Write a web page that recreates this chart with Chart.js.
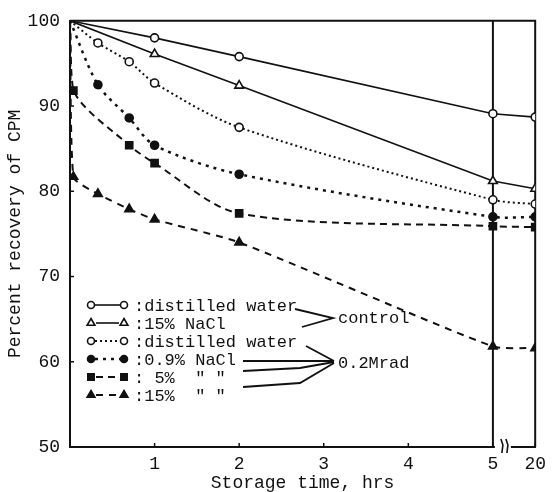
<!DOCTYPE html>
<html>
<head>
<meta charset="utf-8">
<script src="https://cdn.jsdelivr.net/npm/chart.js@4/dist/chart.umd.min.js"></script>
<style>
  html, body { margin: 0; padding: 0; background: #fff; }
  #wrap { width: 552px; height: 492px; }
</style>
</head>
<body>
<div id="wrap"><canvas id="recovery" width="552" height="492"></canvas></div>
<script>
// storage times (hrs) - 20 h sits after the axis break
const hrsControl = [0, 1, 2, 5, 20];
const ctrlWater = [100, 98.0, 95.8, 89.1, 88.7];
const ctrlNaCl15 = [100, 96.1, 92.4, 81.2, 80.3];

const hrsIrrWater = [0, 0.33, 0.7, 1, 2, 5, 20];
const irrWater = [100, 97.4, 95.2, 92.7, 87.5, 79.0, 78.5];
const hrsIrrNaCl09 = [0, 0.33, 0.7, 1, 2, 5, 20];
const irrNaCl09 = [100, 92.5, 88.6, 85.4, 82.0, 77.0, 77.0];
const hrsIrrNaCl5 = [0, 0.04, 0.7, 1, 2, 5, 20];
const irrNaCl5 = [100, 91.8, 85.4, 83.3, 77.4, 75.9, 75.8];
const hrsIrrNaCl15 = [0, 0.04, 0.33, 0.7, 1, 2, 5, 20];
const irrNaCl15 = [100, 81.7, 79.7, 77.9, 76.7, 74.0, 61.8, 61.6];

const xTickHrs = [1, 2, 3, 4, 5, 20];
const yTicks = [50, 60, 70, 80, 90, 100];
const legendLabels = [":distilled water", ":15% NaCl", ":distilled water",
  ":0.9% NaCl", ": 5%  \" \"", ":15%  \" \""];
const groupLabels = ["control", "0.2Mrad"];

const BREAK_AT = 5;
const AFTER_BREAK = 5.5;
function axisPos(h) { return h > BREAK_AT ? AFTER_BREAK : h; }
function pts(hrs, vals) { return hrs.map((h, i) => ({ x: axisPos(h), y: vals[i] })); }

const FONT = "'Liberation Mono', 'DejaVu Sans Mono', monospace";
const INK = "#111";

const styles = [
  { pointStyle: "circle", fill: false, dash: [], width: 1.6, r: 4, tension: 0 },
  { pointStyle: "triangle", fill: false, dash: [], width: 1.6, r: 5, tension: 0 },
  { pointStyle: "circle", fill: false, dash: [2, 3], width: 2, r: 4, tension: 0.3 },
  { pointStyle: "circle", fill: true, dash: [3, 5], width: 2.5, r: 4, tension: 0.3 },
  { pointStyle: "rect", fill: true, dash: [7, 5], width: 2, r: 5, tension: 0.3 },
  { pointStyle: "triangle", fill: true, dash: [7, 6], width: 2, r: 5, tension: 0.2 }
];
const seriesData = [
  pts(hrsControl, ctrlWater), pts(hrsControl, ctrlNaCl15), pts(hrsIrrWater, irrWater),
  pts(hrsIrrNaCl09, irrNaCl09), pts(hrsIrrNaCl5, irrNaCl5), pts(hrsIrrNaCl15, irrNaCl15)
];

const datasets = seriesData.map((d, i) => {
  const s = styles[i];
  return {
    label: legendLabels[i],
    data: d,
    borderColor: INK,
    borderWidth: s.width,
    borderDash: s.dash,
    tension: s.tension,
    pointStyle: s.pointStyle,
    pointRadius: ctx => ctx.dataIndex === 0 ? 0 : s.r,
    pointBackgroundColor: s.fill ? INK : "#fff",
    pointBorderColor: INK,
    pointBorderWidth: 1.6
  };
});

function marker(ctx, s, x, y) {
  ctx.save();
  ctx.setLineDash([]);
  ctx.fillStyle = s.fill ? INK : "#fff";
  ctx.strokeStyle = INK;
  ctx.lineWidth = 1.6;
  Chart.helpers.drawPoint(ctx, { pointStyle: s.pointStyle, radius: s.r - 0.5, rotation: 0, borderWidth: 1.6 }, x, y);
  ctx.restore();
}

function polyline(ctx, p) {
  ctx.beginPath();
  ctx.moveTo(p[0][0], p[0][1]);
  for (let i = 1; i < p.length; i++) ctx.lineTo(p[i][0], p[i][1]);
  ctx.stroke();
}

// frame, the line at 5 h, the axis break and the hand drawn legend
const framePlugin = {
  id: "frame",
  beforeDatasetsDraw(chart) {
    const { ctx, chartArea: a, scales } = chart;
    const x5 = scales.x.getPixelForValue(BREAK_AT);
    ctx.save();
    ctx.strokeStyle = INK;
    ctx.lineWidth = 2;
    polyline(ctx, [[a.left, a.top], [a.right, a.top], [a.right, a.bottom]]);
    polyline(ctx, [[x5, a.top], [x5, a.bottom]]);
    // small inward ticks
    ctx.lineWidth = 1.5;
    yTicks.forEach(v => {
      const y = scales.y.getPixelForValue(v);
      polyline(ctx, [[a.left, y], [a.left + 4, y]]);
    });
    xTickHrs.forEach(h => {
      const x = scales.x.getPixelForValue(axisPos(h));
      polyline(ctx, [[x, a.bottom], [x, a.bottom - 4]]);
    });
    ctx.restore();
  },
  afterDraw(chart) {
    const { ctx, chartArea: a, scales } = chart;
    const x5 = scales.x.getPixelForValue(BREAK_AT);
    ctx.save();
    // axis break
    ctx.fillStyle = "#fff";
    ctx.fillRect(x5 + 2, a.bottom - 3, 16, 6);
    ctx.strokeStyle = INK;
    ctx.lineWidth = 1.6;
    polyline(ctx, [[x5 + 8, a.bottom - 8], [x5 + 10, a.bottom - 2], [x5 + 9, a.bottom + 6]]);
    polyline(ctx, [[x5 + 13, a.bottom - 8], [x5 + 15, a.bottom - 2], [x5 + 14, a.bottom + 6]]);

    // legend
    const rows = [305, 323, 341, 359, 377, 395];
    ctx.font = "17px " + FONT;
    ctx.textBaseline = "middle";
    ctx.textAlign = "left";
    ctx.fillStyle = INK;
    rows.forEach((y, i) => {
      const s = styles[i];
      ctx.strokeStyle = INK;
      ctx.lineWidth = s.width;
      ctx.setLineDash(s.dash);
      polyline(ctx, [[91 + s.r, y], [124 - s.r, y]]);
      ctx.setLineDash([]);
      marker(ctx, s, 91, y);
      marker(ctx, s, 124, y);
      ctx.fillText(legendLabels[i], 134, y + 1);
    });
    ctx.fillText(groupLabels[0], 338, 318);
    ctx.fillText(groupLabels[1], 338, 363);

    // braces
    ctx.lineWidth = 1.8;
    ctx.setLineDash([]);
    polyline(ctx, [[295, 309], [333, 318], [302, 327]]);
    polyline(ctx, [[306, 346], [334, 361]]);
    polyline(ctx, [[243, 361], [334, 361]]);
    polyline(ctx, [[243, 371], [300, 368], [334, 362]]);
    polyline(ctx, [[243, 387], [300, 383], [334, 363]]);
    ctx.restore();
  }
};

new Chart(document.getElementById("recovery"), {
  type: "line",
  data: { datasets: datasets },
  plugins: [framePlugin],
  options: {
    responsive: false,
    animation: false,
    layout: { padding: { top: 20, right: 16, left: 0, bottom: 0 } },
    plugins: { legend: { display: false }, tooltip: { enabled: false } },
    scales: {
      x: {
        type: "linear",
        min: 0,
        max: AFTER_BREAK,
        afterBuildTicks: scale => { scale.ticks = xTickHrs.map(h => ({ value: axisPos(h) })); },
        afterFit: scale => { scale.height = 45; },
        ticks: {
          color: INK,
          font: { family: FONT, size: 18 },
          padding: 6,
          maxRotation: 0,
          autoSkip: false,
          callback: (v, i) => String(xTickHrs[i])
        },
        grid: { drawOnChartArea: false, drawTicks: false },
        border: { color: INK, width: 2 },
        title: {
          display: true,
          text: "Storage time, hrs",
          color: INK,
          font: { family: FONT, size: 18 },
          padding: { top: 0, bottom: -2 }
        }
      },
      y: {
        min: 50,
        max: 100,
        afterBuildTicks: scale => { scale.ticks = yTicks.map(v => ({ value: v })); },
        afterFit: scale => { scale.width = 70; },
        ticks: {
          color: INK,
          font: { family: FONT, size: 18 },
          padding: 10
        },
        grid: { drawOnChartArea: false, drawTicks: false },
        border: { color: INK, width: 2 },
        title: {
          display: true,
          text: "Percent recovery of CPM",
          color: INK,
          font: { family: FONT, size: 18 },
          padding: 4
        }
      }
    }
  }
});
</script>
</body>
</html>
